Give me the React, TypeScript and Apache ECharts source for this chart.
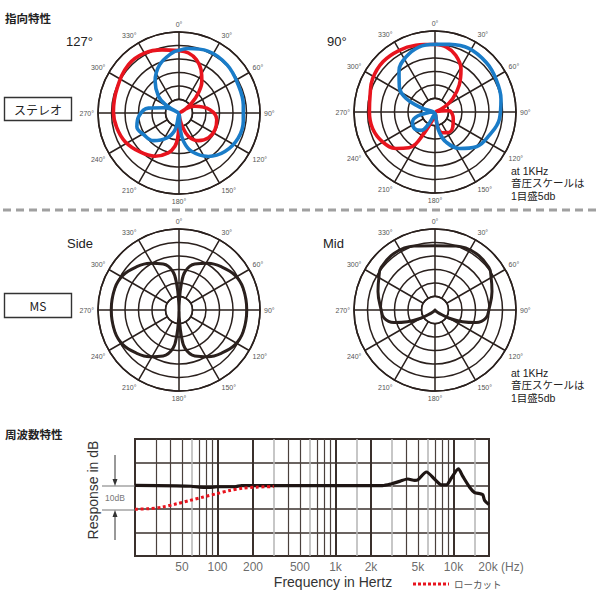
import React, { useEffect, useRef } from "react";
import * as echarts from "echarts";

// ---------- Polar data (angle in degrees, level in dB; centre = -30 dB, outer ring = 0 dB) ----------
// Stereo 127°
const st127RedAngle = [0, 9, 18, 27, 36, 44, 52, 62, 64, 67, 84, 100, 115, 130, 145, 158, 166, 172, 177, 181, 183, 187, 195, 209, 225, 242, 257, 271, 292, 314, 330, 345, 360];
const st127RedDb = [-6.9, -7.5, -9.2, -12, -15.6, -19.7, -24, -28, -29.5, -23.6, -18.5, -15.8, -15.3, -15.7, -17.5, -20.7, -24.9, -28, -29.5, -25, -20.7, -17.6, -14.7, -11.7, -9.6, -7.4, -6.3, -5.7, -5.3, -4.1, -4.4, -5.8, -6.9];
const st127BlueAngle = [0, 8, 25, 45, 64, 83, 97, 113, 130, 146, 162, 171, 176, 182, 193, 206, 223, 238, 252, 265, 279, 289, 296, 302, 309, 323, 338, 353, 360];
const st127BlueDb = [-6.8, -5.9, -4.7, -4.8, -5.7, -6.0, -6.0, -6.2, -7.8, -10.6, -15.1, -19.4, -24.4, -29.5, -23.7, -19.7, -16, -14.7, -13.6, -15, -18.5, -24, -29.5, -24, -20.2, -15.3, -10.8, -7.7, -6.8];

// Stereo 90°
const st90RedAngle = [0, 10, 20, 31, 42, 53, 62, 68, 80, 85, 98, 110, 130, 148, 161, 170, 176, 190, 203, 208, 211, 216, 227, 240, 255, 270, 284, 298, 314, 330, 344, 360];
const st90RedDb = [-4.9, -5.6, -7.6, -11.3, -16.6, -21.8, -26, -29.5, -27.5, -24.7, -23.5, -22.8, -21.4, -21, -21.9, -24.4, -29.5, -28, -24.6, -20.2, -16.3, -13.6, -10.2, -7.7, -6.1, -5.7, -5.2, -3.8, -3.2, -3.6, -4.3, -4.9];
const st90BlueAngle = [0, 12, 28, 46, 61, 79, 96, 113, 130, 146, 160, 168, 171, 178, 200, 209, 217, 231, 246, 257, 266, 276, 285, 288, 295, 305, 319, 332, 346, 360];
const st90BlueDb = [-4.9, -4.4, -3.3, -3.6, -4.3, -5.1, -6.0, -8.1, -10, -13.7, -18.2, -22.4, -26.2, -29.5, -28.5, -24.4, -21.5, -20.2, -20.9, -23.4, -28, -29.5, -26, -23.9, -18.2, -13.9, -9.7, -7, -5.2, -4.9];

// MS Side
const sideAngle = [0, 2, 5, 9, 19, 32, 45, 58, 71, 90, 109, 122, 135, 148, 161, 171, 175, 178, 180, 182, 185, 189, 199, 212, 225, 238, 251, 270, 289, 302, 315, 328, 341, 351, 355, 358, 360];
const sideDb = [-30, -27, -20.7, -15.6, -12, -9.6, -7.5, -5.6, -4.9, -4.9, -4.9, -5.6, -7.5, -9.6, -12, -15.6, -20.7, -27, -30, -27, -20.7, -15.6, -12, -9.6, -7.5, -5.6, -4.9, -4.9, -4.9, -5.6, -7.5, -9.6, -12, -15.6, -20.7, -27, -30];

// MS Mid
const midAngle = [0, 18, 36, 52, 58, 72, 88, 99, 107, 113, 120, 128, 150, 180, 210, 232, 240, 247, 253, 261, 272, 288, 302, 308, 324, 342, 360];
const midDb = [-6.2, -5.1, -4.1, -4.6, -5.6, -7.8, -9.9, -10.9, -14.1, -18.9, -23.9, -28, -29.7, -30, -29.7, -28, -23.9, -18.9, -14.1, -10.9, -9.9, -7.8, -5.6, -4.6, -4.1, -5.1, -6.2];

// ---------- Frequency response ----------
const respFreq = [20, 45, 60, 70, 85, 100, 140, 160, 300, 1000, 2500, 3000, 3500, 4100, 4700, 5000, 5900, 7000, 7900, 8700, 9600, 11000, 12000, 13700, 15100, 16900, 17700, 18400, 20000];
const respDb = [0.2, 0, -0.2, -0.6, -0.7, -0.4, -0.4, 0.1, 0.1, 0.1, 0.1, 0.9, 1.9, 2.9, 2.3, 2.6, 5.9, 2.6, 0.4, 0.4, 3.3, 7.2, 4, -0.6, -2.9, -3.4, -3.8, -6.3, -8];
const lowCutFreq = [20, 26, 34, 45, 58, 76, 98, 127, 164, 213, 300];
const lowCutDb = [-10, -9.8, -9.1, -7.7, -6.3, -4.8, -3.4, -2, -1, -0.6, -0.3];

const freqTicks = [50, 100, 200, 500, 1000, 2000, 5000, 10000, 20000];
const freqTickLabels = ["50", "100", "200", "500", "1k", "2k", "5k", "10k", "20k (Hz)"];
const gridFreqs = [30, 40, 50, 60, 70, 80, 90, 100, 200, 300, 400, 500, 600, 700, 800, 900, 1000, 1500, 2000, 3000, 4000, 5000, 6000, 7000, 8000, 9000, 10000, 15000];
const strongFreqs = [100, 200, 1000, 2000, 10000];
const faintFreqs = [60, 300, 600, 1500, 3000, 6000, 15000];
const dbTicks = [-30, -20, -10, 0, 10, 20];

const noteLines = ["at 1KHz", "音圧スケールは", "1目盛5db"];

const angleLabels = (v: number) => (v >= 360 ? "" : `${v}°`);

const RED = "#e8141e";
const BLUE = "#1a7cc8";
const INK = "#2a201d";

export default function App() {
  const ref = useRef<HTMLDivElement>(null);

  useEffect(() => {
    if (!ref.current) return;
    const chart = echarts.init(ref.current, undefined, { renderer: "svg" });

    const plots = [
      { center: [179, 113], curves: [{ a: st127RedAngle, d: st127RedDb, c: RED, w: 3.6 }, { a: st127BlueAngle, d: st127BlueDb, c: BLUE, w: 3.6 }] },
      { center: [435, 112], curves: [{ a: st90RedAngle, d: st90RedDb, c: RED, w: 3.6 }, { a: st90BlueAngle, d: st90BlueDb, c: BLUE, w: 3.6 }] },
      { center: [179, 310], curves: [{ a: sideAngle, d: sideDb, c: INK, w: 3 }] },
      { center: [435, 310], curves: [{ a: midAngle, d: midDb, c: INK, w: 3 }] },
    ];

    const polar: any[] = [];
    const angleAxis: any[] = [];
    const radiusAxis: any[] = [];
    const series: any[] = [];

    plots.forEach((p, i) => {
      const gi = i * 2;
      const di = i * 2 + 1;
      polar.push({ center: p.center, radius: [13.5, 81] });
      polar.push({ center: p.center, radius: [0, 81] });
      angleAxis.push({
        polarIndex: gi, type: "value", min: 0, max: 360, interval: 30, startAngle: 90, clockwise: true,
        axisLine: { show: true, lineStyle: { color: INK, width: 1.6 } },
        axisTick: { show: false },
        splitLine: { show: true, lineStyle: { color: INK, width: 1.5 } },
        axisLabel: { show: true, formatter: angleLabels, fontSize: 7, color: "#555", margin: 4, fontFamily: "Liberation Sans" },
      });
      radiusAxis.push({
        polarIndex: gi, type: "value", min: -25, max: 0, interval: 5,
        axisLine: { show: false }, axisTick: { show: false }, axisLabel: { show: false },
        splitLine: { show: true, lineStyle: { color: INK, width: 1.5 } },
      });
      angleAxis.push({
        polarIndex: di, type: "value", min: 0, max: 360, startAngle: 90, clockwise: true,
        axisLine: { show: false }, axisTick: { show: false }, axisLabel: { show: false }, splitLine: { show: false },
      });
      radiusAxis.push({
        polarIndex: di, type: "value", min: -30, max: 0,
        axisLine: { show: false }, axisTick: { show: false }, axisLabel: { show: false }, splitLine: { show: false },
      });
      p.curves.forEach((c) => {
        series.push({
          type: "line", coordinateSystem: "polar", polarIndex: di,
          data: c.a.map((ang, k) => [c.d[k], ang]),
          showSymbol: false, symbol: "none", smooth: 0.4, silent: true, z: 3,
          lineStyle: { color: c.c, width: c.w, cap: "round", join: "round" },
        });
      });
    });

    // Frequency response
    series.push({
      type: "line", xAxisIndex: 0, yAxisIndex: 0,
      data: respFreq.map((f, k) => [f, respDb[k]]),
      showSymbol: false, symbol: "none", smooth: 0.25, silent: true, z: 3,
      lineStyle: { color: "#1e1513", width: 3.2, join: "round" },
      markLine: {
        silent: true, symbol: "none", z: 1, animation: false,
        label: { show: false },
        data: gridFreqs.map((f) => ({
          xAxis: f,
          lineStyle: strongFreqs.includes(f)
            ? { color: "#3a302c", width: 2, type: "solid" }
            : faintFreqs.includes(f)
            ? { color: "#b5b5b5", width: 1.5, type: "solid" }
            : { color: "#4a403c", width: 1.2, type: "solid" },
        })),
      },
    });
    series.push({
      type: "line", xAxisIndex: 0, yAxisIndex: 0,
      data: lowCutFreq.map((f, k) => [f, lowCutDb[k]]),
      showSymbol: false, symbol: "none", smooth: 0.3, silent: true, z: 4,
      lineStyle: { color: RED, width: 3, type: [3, 2.6] },
    });
    series.push({
      type: "scatter", xAxisIndex: 0, yAxisIndex: 0, silent: true,
      symbolSize: 1, itemStyle: { color: "rgba(0,0,0,0)" },
      data: freqTicks.map((f, k) => ({
        value: [f, dbTicks[0]],
        name: freqTickLabels[k],
        label: k === freqTicks.length - 1 ? { offset: [12, 0] } : undefined,
      })),
      label: {
        show: true, position: "bottom", distance: 4, formatter: "{b}",
        fontSize: 12, color: "#444", fontFamily: "Liberation Sans",
      },
    });

    const txt = (text: string, x: number, y: number, o: any = {}) => ({
      type: "text", x, y, silent: true,
      style: {
        text, fill: o.fill || "#222", fontSize: o.size || 12, fontWeight: o.weight || "normal",
        fontFamily: o.family || "Liberation Sans", align: o.align || "left", verticalAlign: o.valign || "middle",
        lineHeight: o.lineHeight,
      },
      rotation: o.rotation || 0,
    });
    const CJK = "Noto Sans CJK JP";
    const MIXED = "'Liberation Sans', 'Noto Sans CJK JP'";

    const noteBlock = (x: number, yFirst: number, step: number) =>
      noteLines.map((line, k) => txt(line, x, yFirst + k * step, { size: 10.5, family: MIXED }));

    const graphic: any[] = [
      txt("指向特性", 5, 18, { size: 11.5, weight: "bold", family: CJK }),
      txt("周波数特性", 5, 434, { size: 11.5, weight: "bold", family: CJK }),
      txt("127°", 66, 41, { size: 13 }),
      txt("90°", 327, 41, { size: 13 }),
      txt("Side", 67, 243, { size: 13 }),
      txt("Mid", 323, 243, { size: 13 }),
      ...noteBlock(511, 171, 12.3),
      ...noteBlock(511, 373, 12.3),
      { type: "line", silent: true, shape: { x1: 3, y1: 210, x2: 597, y2: 210 }, style: { stroke: "#a0a0a0", lineWidth: 3, lineDash: [8, 5] } },
      { type: "rect", silent: true, shape: { x: 4.5, y: 97.5, width: 67, height: 23 }, style: { fill: "#fff", stroke: "#333", lineWidth: 1.4 } },
      txt("ステレオ", 38, 109, { size: 12, family: CJK, align: "center" }),
      { type: "rect", silent: true, shape: { x: 4.5, y: 293.5, width: 67, height: 24 }, style: { fill: "#fff", stroke: "#333", lineWidth: 1.4 } },
      txt("MS", 38, 305.5, { size: 12, family: CJK, align: "center" }),
      // response axis annotation
      txt("Response in dB", 93, 490, { size: 14, align: "center", rotation: Math.PI / 2, fill: "#333" }),
      txt("Frequency in Hertz", 333, 582, { size: 14, align: "center", fill: "#333" }),
      { type: "line", silent: true, shape: { x1: 102, y1: 486, x2: 135, y2: 486 }, style: { stroke: "#777", lineWidth: 1 } },
      { type: "line", silent: true, shape: { x1: 102, y1: 510, x2: 135, y2: 510 }, style: { stroke: "#777", lineWidth: 1 } },
      { type: "line", silent: true, shape: { x1: 115, y1: 455, x2: 115, y2: 482 }, style: { stroke: "#333", lineWidth: 1 } },
      { type: "polygon", silent: true, shape: { points: [[112.5, 479], [117.5, 479], [115, 486]] }, style: { fill: "#333" } },
      { type: "line", silent: true, shape: { x1: 115, y1: 514, x2: 115, y2: 540 }, style: { stroke: "#333", lineWidth: 1 } },
      { type: "polygon", silent: true, shape: { points: [[112.5, 517], [117.5, 517], [115, 510]] }, style: { fill: "#333" } },
      txt("10dB", 115, 498, { size: 8.5, align: "center", fill: "#777" }),
      // legend
      { type: "line", silent: true, shape: { x1: 413, y1: 584, x2: 449, y2: 584 }, style: { stroke: RED, lineWidth: 3, lineDash: [3, 2] } },
      txt("ローカット", 454, 584, { size: 9.5, family: CJK, fill: "#555" }),
    ];

    chart.setOption({
      animation: false,
      backgroundColor: "#fff",
      textStyle: { fontFamily: "Liberation Sans" },
      polar,
      angleAxis,
      radiusAxis,
      grid: [{ left: 135, right: 111, top: 439, bottom: 44, show: true, borderColor: "#3a302c", borderWidth: 2, backgroundColor: "transparent", containLabel: false }],
      xAxis: [{
        type: "log", logBase: 10, min: 20, max: 20000, gridIndex: 0,
        axisLine: { show: false }, axisTick: { show: false }, axisLabel: { show: false }, splitLine: { show: false },
      }],
      yAxis: [{
        type: "value", min: -30, max: 20, interval: 10, gridIndex: 0,
        axisLine: { show: false }, axisTick: { show: false }, axisLabel: { show: false },
        splitLine: { show: true, lineStyle: { color: "#3a302c", width: 1.5 } },
      }],
      series,
      graphic,
    });

    return () => chart.dispose();
  }, []);

  return <div ref={ref} style={{ position: "fixed", left: 0, top: 0, width: 600, height: 600 }} />;
}
